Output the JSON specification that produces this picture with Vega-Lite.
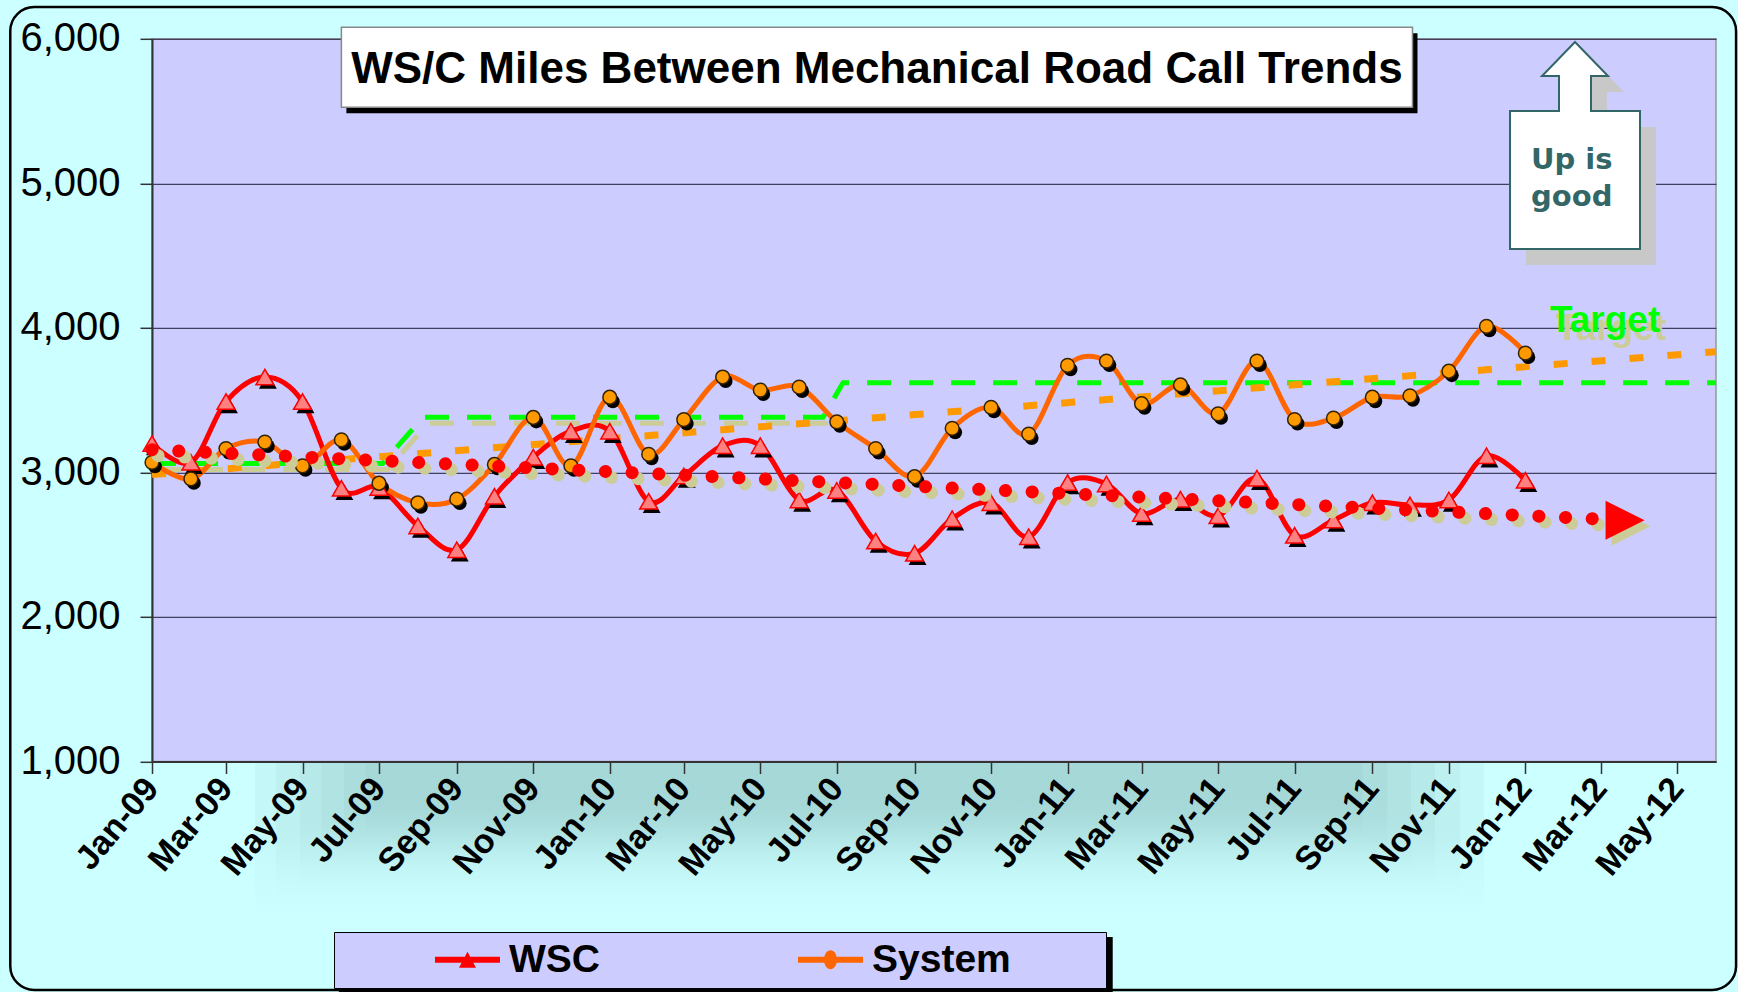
{
  "$schema": "https://vega.github.io/schema/vega-lite/v6.json",
  "width": 1564,
  "height": 722.7,
  "autosize": {"type": "none"},
  "padding": {"left": 152, "top": 38.8, "right": 22, "bottom": 230.5},
  "background": "#ccffff",
  "config": {
    "font": "Liberation Sans",
    "view": {"fill": "#ccccff", "stroke": "#999999", "strokeWidth": 1.5}
  },
  "datasets": {
    "series": [
      {"month": "2009-01-01", "series": "WSC", "value": 3200},
      {"month": "2009-02-01", "series": "WSC", "value": 3070},
      {"month": "2009-03-01", "series": "WSC", "value": 3490},
      {"month": "2009-04-01", "series": "WSC", "value": 3660},
      {"month": "2009-05-01", "series": "WSC", "value": 3490},
      {"month": "2009-06-01", "series": "WSC", "value": 2890},
      {"month": "2009-07-01", "series": "WSC", "value": 2895},
      {"month": "2009-08-01", "series": "WSC", "value": 2630},
      {"month": "2009-09-01", "series": "WSC", "value": 2465},
      {"month": "2009-10-01", "series": "WSC", "value": 2835},
      {"month": "2009-11-01", "series": "WSC", "value": 3105},
      {"month": "2009-12-01", "series": "WSC", "value": 3285},
      {"month": "2010-01-01", "series": "WSC", "value": 3285},
      {"month": "2010-02-01", "series": "WSC", "value": 2800},
      {"month": "2010-03-01", "series": "WSC", "value": 2975},
      {"month": "2010-04-01", "series": "WSC", "value": 3185},
      {"month": "2010-05-01", "series": "WSC", "value": 3185},
      {"month": "2010-06-01", "series": "WSC", "value": 2810},
      {"month": "2010-07-01", "series": "WSC", "value": 2875},
      {"month": "2010-08-01", "series": "WSC", "value": 2525},
      {"month": "2010-09-01", "series": "WSC", "value": 2440},
      {"month": "2010-10-01", "series": "WSC", "value": 2680},
      {"month": "2010-11-01", "series": "WSC", "value": 2790},
      {"month": "2010-12-01", "series": "WSC", "value": 2555},
      {"month": "2011-01-01", "series": "WSC", "value": 2930},
      {"month": "2011-02-01", "series": "WSC", "value": 2920},
      {"month": "2011-03-01", "series": "WSC", "value": 2715},
      {"month": "2011-04-01", "series": "WSC", "value": 2815},
      {"month": "2011-05-01", "series": "WSC", "value": 2700},
      {"month": "2011-06-01", "series": "WSC", "value": 2960},
      {"month": "2011-07-01", "series": "WSC", "value": 2565},
      {"month": "2011-08-01", "series": "WSC", "value": 2670},
      {"month": "2011-09-01", "series": "WSC", "value": 2790},
      {"month": "2011-10-01", "series": "WSC", "value": 2775},
      {"month": "2011-11-01", "series": "WSC", "value": 2810},
      {"month": "2011-12-01", "series": "WSC", "value": 3115},
      {"month": "2012-01-01", "series": "WSC", "value": 2945},
      {"month": "2009-01-01", "series": "System", "value": 3070},
      {"month": "2009-02-01", "series": "System", "value": 2955},
      {"month": "2009-03-01", "series": "System", "value": 3165},
      {"month": "2009-04-01", "series": "System", "value": 3210},
      {"month": "2009-05-01", "series": "System", "value": 3045},
      {"month": "2009-06-01", "series": "System", "value": 3225},
      {"month": "2009-07-01", "series": "System", "value": 2925},
      {"month": "2009-08-01", "series": "System", "value": 2790},
      {"month": "2009-09-01", "series": "System", "value": 2815},
      {"month": "2009-10-01", "series": "System", "value": 3055},
      {"month": "2009-11-01", "series": "System", "value": 3380},
      {"month": "2009-12-01", "series": "System", "value": 3045},
      {"month": "2010-01-01", "series": "System", "value": 3520},
      {"month": "2010-02-01", "series": "System", "value": 3125},
      {"month": "2010-03-01", "series": "System", "value": 3365},
      {"month": "2010-04-01", "series": "System", "value": 3660},
      {"month": "2010-05-01", "series": "System", "value": 3570},
      {"month": "2010-06-01", "series": "System", "value": 3590},
      {"month": "2010-07-01", "series": "System", "value": 3350},
      {"month": "2010-08-01", "series": "System", "value": 3165},
      {"month": "2010-09-01", "series": "System", "value": 2970},
      {"month": "2010-10-01", "series": "System", "value": 3305},
      {"month": "2010-11-01", "series": "System", "value": 3450},
      {"month": "2010-12-01", "series": "System", "value": 3265},
      {"month": "2011-01-01", "series": "System", "value": 3740},
      {"month": "2011-02-01", "series": "System", "value": 3770},
      {"month": "2011-03-01", "series": "System", "value": 3475},
      {"month": "2011-04-01", "series": "System", "value": 3605},
      {"month": "2011-05-01", "series": "System", "value": 3405},
      {"month": "2011-06-01", "series": "System", "value": 3770},
      {"month": "2011-07-01", "series": "System", "value": 3365},
      {"month": "2011-08-01", "series": "System", "value": 3375},
      {"month": "2011-09-01", "series": "System", "value": 3520},
      {"month": "2011-10-01", "series": "System", "value": 3530},
      {"month": "2011-11-01", "series": "System", "value": 3700},
      {"month": "2011-12-01", "series": "System", "value": 4010},
      {"month": "2012-01-01", "series": "System", "value": 3825}
    ],
    "target": [
      {"month": "2009-01-01", "value": 3062},
      {"month": "2009-07-04", "value": 3062},
      {"month": "2009-08-05", "value": 3381},
      {"month": "2010-06-20", "value": 3381},
      {"month": "2010-07-06", "value": 3620},
      {"month": "2012-06-01", "value": 3620}
    ],
    "trendWSC": [
      {"month": "2009-01-01", "value": 3157},
      {"month": "2012-03-20", "value": 2669}
    ],
    "trendSystem": [
      {"month": "2009-01-01", "value": 2985},
      {"month": "2012-06-01", "value": 3835}
    ]
  },
  "layer": [
    {
      "data": {"name": "series"},
      "mark": {"type": "line", "strokeWidth": 5, "interpolate": "cardinal", "opacity": 0},
      "encoding": {
        "x": {
          "field": "month",
          "type": "temporal",
          "scale": {
            "type": "utc",
            "domain": [
              {"year": 2009, "month": 1, "date": 1, "utc": true},
              {"year": 2012, "month": 6, "date": 1, "utc": true}
            ]
          },
          "axis": {
            "title": null,
            "format": "%b-%y",
            "tickCount": {"interval": "month", "step": 2},
            "labelAngle": -50,
            "labelAlign": "right",
            "labelBaseline": "middle",
            "labelFont": "Liberation Sans",
            "labelFontSize": 34,
            "labelFontWeight": "bold",
            "labelColor": "#000000",
            "labelPadding": 9,
            "labelOverlap": false,
            "labelBound": false,
            "labelFlush": false,
            "tickSize": 12,
            "tickColor": "#333333",
            "tickWidth": 1.5,
            "domainColor": "#333333",
            "domainWidth": 2,
            "grid": false,
            "zindex": 1
          }
        },
        "y": {
          "field": "value",
          "type": "quantitative",
          "scale": {"domain": [1000, 6000], "nice": false, "zero": false},
          "axis": {
            "title": null,
            "values": [1000, 2000, 3000, 4000, 5000, 6000],
            "format": ",.0f",
            "labelFont": "Liberation Sans",
            "labelFontSize": 40,
            "labelColor": "#000000",
            "labelPadding": 20,
            "tickSize": 12,
            "tickColor": "#333333",
            "tickWidth": 1.5,
            "domainColor": "#333333",
            "domainWidth": 2,
            "grid": true,
            "gridColor": "#404060",
            "gridWidth": 1.2
          }
        }
      }
    },
    {
      "data": {"values": [{}]},
      "mark": {"type": "rect", "fill": {"gradient": "linear", "x1": 0, "y1": 0, "x2": 0, "y2": 1, "stops": [{"offset": 0, "color": "rgba(90,140,140,0.065)"}, {"offset": 0.5, "color": "rgba(90,140,140,0.065)"}, {"offset": 1, "color": "rgba(90,140,140,0)"}]}},
      "encoding": {
        "x": {"datum": {"year": 2009, "month": 3, "date": 24, "utc": true}, "type": "temporal"},
        "x2": {"datum": {"year": 2011, "month": 11, "date": 29, "utc": true}},
        "y": {"datum": 1000, "type": "quantitative"},
        "y2": {"datum": -62}
      }
    },
    {
      "data": {"values": [{}]},
      "mark": {"type": "rect", "fill": {"gradient": "linear", "x1": 0, "y1": 0, "x2": 0, "y2": 1, "stops": [{"offset": 0, "color": "rgba(90,140,140,0.065)"}, {"offset": 0.5, "color": "rgba(90,140,140,0.065)"}, {"offset": 1, "color": "rgba(90,140,140,0)"}]}},
      "encoding": {
        "x": {"datum": {"year": 2009, "month": 4, "date": 10, "utc": true}, "type": "temporal"},
        "x2": {"datum": {"year": 2011, "month": 11, "date": 10, "utc": true}},
        "y": {"datum": 1000, "type": "quantitative"},
        "y2": {"datum": 42}
      }
    },
    {
      "data": {"values": [{}]},
      "mark": {"type": "rect", "fill": {"gradient": "linear", "x1": 0, "y1": 0, "x2": 0, "y2": 1, "stops": [{"offset": 0, "color": "rgba(90,140,140,0.065)"}, {"offset": 0.5, "color": "rgba(90,140,140,0.065)"}, {"offset": 1, "color": "rgba(90,140,140,0)"}]}},
      "encoding": {
        "x": {"datum": {"year": 2009, "month": 4, "date": 29, "utc": true}, "type": "temporal"},
        "x2": {"datum": {"year": 2011, "month": 10, "date": 21, "utc": true}},
        "y": {"datum": 1000, "type": "quantitative"},
        "y2": {"datum": 146}
      }
    },
    {
      "data": {"values": [{}]},
      "mark": {"type": "rect", "fill": {"gradient": "linear", "x1": 0, "y1": 0, "x2": 0, "y2": 1, "stops": [{"offset": 0, "color": "rgba(90,140,140,0.065)"}, {"offset": 0.5, "color": "rgba(90,140,140,0.065)"}, {"offset": 1, "color": "rgba(90,140,140,0)"}]}},
      "encoding": {
        "x": {"datum": {"year": 2009, "month": 5, "date": 16, "utc": true}, "type": "temporal"},
        "x2": {"datum": {"year": 2011, "month": 10, "date": 2, "utc": true}},
        "y": {"datum": 1000, "type": "quantitative"},
        "y2": {"datum": 249}
      }
    },
    {
      "data": {"values": [{}]},
      "mark": {"type": "rect", "fill": {"gradient": "linear", "x1": 0, "y1": 0, "x2": 0, "y2": 1, "stops": [{"offset": 0, "color": "rgba(90,140,140,0.065)"}, {"offset": 0.5, "color": "rgba(90,140,140,0.065)"}, {"offset": 1, "color": "rgba(90,140,140,0)"}]}},
      "encoding": {
        "x": {"datum": {"year": 2009, "month": 6, "date": 3, "utc": true}, "type": "temporal"},
        "x2": {"datum": {"year": 2011, "month": 9, "date": 13, "utc": true}},
        "y": {"datum": 1000, "type": "quantitative"},
        "y2": {"datum": 353}
      }
    },
    {
      "data": {"values": [{}]},
      "mark": {"type": "rect", "fill": {"gradient": "linear", "x1": 0, "y1": 0, "x2": 0, "y2": 1, "stops": [{"offset": 0, "color": "rgba(90,140,140,0.065)"}, {"offset": 0.5, "color": "rgba(90,140,140,0.065)"}, {"offset": 1, "color": "rgba(90,140,140,0)"}]}},
      "encoding": {
        "x": {"datum": {"year": 2009, "month": 6, "date": 20, "utc": true}, "type": "temporal"},
        "x2": {"datum": {"year": 2011, "month": 8, "date": 24, "utc": true}},
        "y": {"datum": 1000, "type": "quantitative"},
        "y2": {"datum": 457}
      }
    },
    {
      "data": {"values": [{}]},
      "mark": {"type": "rect", "fill": "transparent", "stroke": "#000000", "strokeWidth": 2.5, "cornerRadius": 24},
      "encoding": {
        "x": {"datum": {"year": 2008, "month": 9, "date": 10, "utc": true}, "type": "temporal"},
        "x2": {"datum": {"year": 2012, "month": 6, "date": 17, "utc": true}},
        "y": {"datum": 6220, "type": "quantitative"},
        "y2": {"datum": -581}
      }
    },
    {
      "data": {"values": [{}]},
      "mark": {"type": "rect", "fill": "#000000"},
      "encoding": {
        "x": {"datum": {"year": 2009, "month": 5, "date": 30, "utc": true}, "type": "temporal"},
        "x2": {"datum": {"year": 2011, "month": 2, "date": 6, "utc": true}},
        "y": {"datum": -214, "type": "quantitative"},
        "y2": {"datum": -602}
      }
    },
    {
      "data": {"name": "target"},
      "transform": [{"filter": {"field": "month", "lte": {"year": 2010, "month": 6, "date": 21, "utc": true}}}],
      "mark": {"type": "line", "color": "#cccc99", "strokeWidth": 5, "strokeDash": [24, 18], "xOffset": 5, "yOffset": 6},
      "encoding": {
        "x": {"field": "month", "type": "temporal"},
        "y": {"field": "value", "type": "quantitative"}
      }
    },
    {
      "data": {"name": "target"},
      "mark": {"type": "line", "color": "#00ff00", "strokeWidth": 5, "strokeDash": [24, 18]},
      "encoding": {
        "x": {"field": "month", "type": "temporal"},
        "y": {"field": "value", "type": "quantitative"}
      }
    },
    {
      "data": {"name": "trendSystem"},
      "mark": {"type": "line", "color": "#ff9900", "strokeWidth": 7, "strokeDash": [14, 24]},
      "encoding": {
        "x": {"field": "month", "type": "temporal"},
        "y": {"field": "value", "type": "quantitative"}
      }
    },
    {
      "data": {"name": "series"},
      "mark": {"type": "line", "strokeWidth": 5, "interpolate": "cardinal"},
      "encoding": {
        "x": {"field": "month", "type": "temporal"},
        "y": {"field": "value", "type": "quantitative"},
        "color": {
          "field": "series",
          "type": "nominal",
          "scale": {"domain": ["WSC", "System"], "range": ["#ff0000", "#ff6600"]},
          "legend": {
            "orient": "none",
            "legendX": 182,
            "legendY": 893.2,
            "direction": "horizontal",
            "title": null,
            "fillColor": "#ccccff",
            "strokeColor": "#000000",
            "padding": 8,
            "labelFont": "Liberation Sans",
            "labelFontSize": 39,
            "labelFontWeight": "bold",
            "labelColor": "#000000",
            "labelLimit": 600,
            "symbolSize": 1521,
            "symbolOffset": 106,
            "labelOffset": 22,
            "columnPadding": 105,
            "labelExpr": "datum.label === 'System' ? 'System\u2800\u2800\u2800' : datum.label",
            "encode": {
              "symbols": {
                "update": {
                  "shape": {"signal": "datum.value === 'WSC' ? 'M-1.667,-0.15L1.667,-0.15L1.667,0.15L-1.667,0.15Z M0,-0.41L0.436,0.41L-0.436,0.41Z' : 'M-1.667,-0.15L1.667,-0.15L1.667,0.15L-1.667,0.15Z M0.333,0A0.333,0.487 0 1,1 -0.333,0A0.333,0.487 0 1,1 0.333,0Z'"},
                  "fill": {"scale": "color", "field": "value"},
                  "stroke": {"value": "transparent"},
                  "strokeWidth": {"value": 0},
                  "opacity": {"value": 1}
                }
              }
            }
          }
        }
      }
    },
    {
      "data": {"name": "series"},
      "transform": [{"filter": {"field": "series", "equal": "WSC"}}],
      "mark": {"type": "point", "shape": "triangle-up", "size": 320, "filled": true, "fill": "#000000", "strokeWidth": 0, "opacity": 1, "xOffset": 3, "yOffset": 4},
      "encoding": {
        "x": {"field": "month", "type": "temporal"},
        "y": {"field": "value", "type": "quantitative"}
      }
    },
    {
      "data": {"name": "series"},
      "transform": [{"filter": {"field": "series", "equal": "System"}}],
      "mark": {"type": "point", "shape": "circle", "size": 190, "filled": true, "fill": "#000000", "strokeWidth": 0, "opacity": 1, "xOffset": 3, "yOffset": 4},
      "encoding": {
        "x": {"field": "month", "type": "temporal"},
        "y": {"field": "value", "type": "quantitative"}
      }
    },
    {
      "data": {"name": "series"},
      "transform": [{"filter": {"field": "series", "equal": "WSC"}}],
      "mark": {"type": "point", "shape": "triangle-up", "size": 320, "filled": true, "fill": "#ff8080", "stroke": "#ff0000", "strokeWidth": 1.5, "opacity": 1},
      "encoding": {
        "x": {"field": "month", "type": "temporal"},
        "y": {"field": "value", "type": "quantitative"}
      }
    },
    {
      "data": {"name": "series"},
      "transform": [{"filter": {"field": "series", "equal": "System"}}],
      "mark": {"type": "point", "shape": "circle", "size": 190, "filled": true, "fill": "#ff9900", "stroke": "#332200", "strokeWidth": 1.5, "opacity": 1},
      "encoding": {
        "x": {"field": "month", "type": "temporal"},
        "y": {"field": "value", "type": "quantitative"}
      }
    },
    {
      "data": {"name": "trendWSC"},
      "mark": {"type": "line", "color": "#cccc99", "strokeWidth": 13, "strokeDash": [0.1, 26.6], "strokeCap": "round", "xOffset": 6, "yOffset": 6},
      "encoding": {
        "x": {"field": "month", "type": "temporal"},
        "y": {"field": "value", "type": "quantitative"}
      }
    },
    {
      "data": {"name": "trendWSC"},
      "mark": {"type": "line", "color": "#ff0000", "strokeWidth": 13, "strokeDash": [0.1, 26.6], "strokeCap": "round"},
      "encoding": {
        "x": {"field": "month", "type": "temporal"},
        "y": {"field": "value", "type": "quantitative"}
      }
    },
    {
      "data": {"values": [{}]},
      "mark": {"type": "point", "shape": "M1,0L-1,-1L-1,1Z", "size": 1521, "filled": true, "fill": "#cccc99", "strokeWidth": 0, "opacity": 1, "xOffset": 6, "yOffset": 6},
      "encoding": {
        "x": {"datum": {"year": 2012, "month": 3, "date": 20, "hours": 12, "utc": true}, "type": "temporal"},
        "y": {"datum": 2669, "type": "quantitative"}
      }
    },
    {
      "data": {"values": [{}]},
      "mark": {"type": "point", "shape": "M1,0L-1,-1L-1,1Z", "size": 1521, "filled": true, "fill": "#ff0000", "strokeWidth": 0, "opacity": 1},
      "encoding": {
        "x": {"datum": {"year": 2012, "month": 3, "date": 20, "hours": 12, "utc": true}, "type": "temporal"},
        "y": {"datum": 2669, "type": "quantitative"}
      }
    },
    {
      "data": {"values": [{}]},
      "mark": {"type": "rect", "fill": "#000000", "xOffset": 5, "x2Offset": 5, "yOffset": 6, "y2Offset": 6},
      "encoding": {
        "x": {"datum": {"year": 2009, "month": 6, "date": 1, "utc": true}, "type": "temporal"},
        "x2": {"datum": {"year": 2011, "month": 10, "date": 3, "utc": true}},
        "y": {"datum": 6080, "type": "quantitative"},
        "y2": {"datum": 5526}
      }
    },
    {
      "data": {"values": [{}]},
      "mark": {"type": "rect", "fill": "#ffffff", "stroke": "#888888", "strokeWidth": 1.5},
      "encoding": {
        "x": {"datum": {"year": 2009, "month": 6, "date": 1, "utc": true}, "type": "temporal"},
        "x2": {"datum": {"year": 2011, "month": 10, "date": 3, "utc": true}},
        "y": {"datum": 6080, "type": "quantitative"},
        "y2": {"datum": 5526}
      }
    },
    {
      "data": {"values": [{}]},
      "mark": {"type": "text", "text": "WS/C Miles Between Mechanical Road Call Trends", "font": "Liberation Sans", "fontSize": 44, "fontWeight": "bold", "color": "#000000", "align": "center", "baseline": "alphabetic"},
      "encoding": {
        "x": {"datum": {"year": 2010, "month": 8, "date": 2, "utc": true}, "type": "temporal"},
        "y": {"datum": 5692, "type": "quantitative"}
      }
    },
    {
      "data": {"values": [{}]},
      "mark": {"type": "point", "shape": "M0,-1.035L0.33,-0.695L0.16,-0.695L0.16,-0.345L0.65,-0.345L0.65,1.035L-0.65,1.035L-0.65,-0.345L-0.16,-0.345L-0.16,-0.695L-0.33,-0.695Z", "size": 40000, "filled": true, "fill": "#c8c8c8", "strokeWidth": 0, "opacity": 1, "xOffset": 16, "yOffset": 16},
      "encoding": {
        "x": {"datum": {"year": 2012, "month": 2, "date": 9, "hours": 14, "utc": true}, "type": "temporal"},
        "y": {"datum": 5262, "type": "quantitative"}
      }
    },
    {
      "data": {"values": [{}]},
      "mark": {"type": "point", "shape": "M0,-1.035L0.33,-0.695L0.16,-0.695L0.16,-0.345L0.65,-0.345L0.65,1.035L-0.65,1.035L-0.65,-0.345L-0.16,-0.345L-0.16,-0.695L-0.33,-0.695Z", "size": 40000, "filled": true, "fill": "#ffffff", "stroke": "#336666", "strokeWidth": 2, "opacity": 1},
      "encoding": {
        "x": {"datum": {"year": 2012, "month": 2, "date": 9, "hours": 14, "utc": true}, "type": "temporal"},
        "y": {"datum": 5262, "type": "quantitative"}
      }
    },
    {
      "data": {"values": [{}]},
      "mark": {"type": "text", "text": ["Up is", "good"], "font": "DejaVu Sans", "fontSize": 29, "fontWeight": "bold", "color": "#336666", "align": "center", "baseline": "alphabetic", "lineHeight": 37},
      "encoding": {
        "x": {"datum": {"year": 2012, "month": 2, "date": 7, "utc": true}, "type": "temporal"},
        "y": {"datum": 5098, "type": "quantitative"}
      }
    },
    {
      "data": {"values": [{}]},
      "mark": {"type": "text", "text": "Target", "font": "Liberation Sans", "fontSize": 37, "fontWeight": "bold", "color": "#cccc99", "align": "left", "baseline": "alphabetic", "dx": 6, "dy": 8},
      "encoding": {
        "x": {"datum": {"year": 2012, "month": 1, "date": 20, "hours": 14, "utc": true}, "type": "temporal"},
        "y": {"datum": 3973, "type": "quantitative"}
      }
    },
    {
      "data": {"values": [{}]},
      "mark": {"type": "text", "text": "Target", "font": "Liberation Sans", "fontSize": 37, "fontWeight": "bold", "color": "#00ff00", "align": "left", "baseline": "alphabetic"},
      "encoding": {
        "x": {"datum": {"year": 2012, "month": 1, "date": 20, "hours": 14, "utc": true}, "type": "temporal"},
        "y": {"datum": 3973, "type": "quantitative"}
      }
    }
  ]
}
